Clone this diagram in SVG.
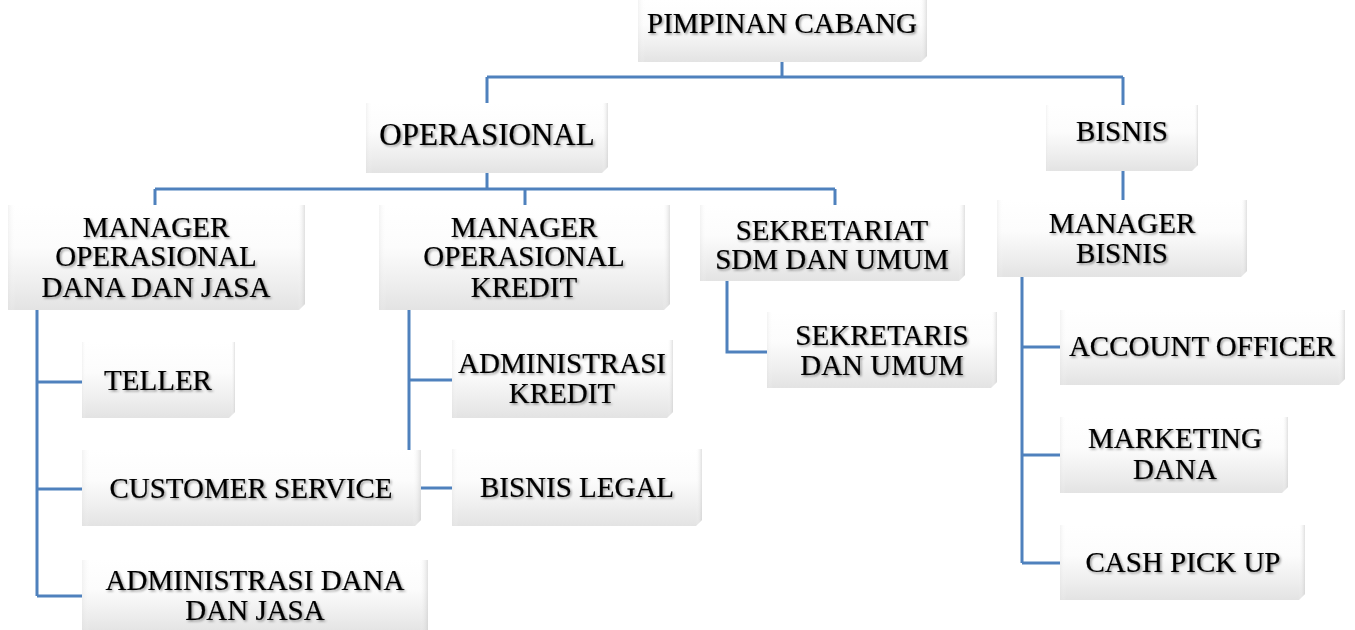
<svg xmlns="http://www.w3.org/2000/svg" width="1355" height="630" viewBox="0 0 1355 630">
<defs>
<linearGradient id="gv" x1="0" y1="0" x2="0" y2="1">
<stop offset="0" stop-color="#ffffff"/>
<stop offset="0.4" stop-color="#fcfcfc"/>
<stop offset="0.75" stop-color="#eeeeee"/>
<stop offset="1" stop-color="#e3e3e3"/>
</linearGradient>
<linearGradient id="gh" x1="0" y1="0" x2="1" y2="0">
<stop offset="0" stop-color="#e0e0e0" stop-opacity="0.4"/>
<stop offset="0.025" stop-color="#ffffff" stop-opacity="0"/>
<stop offset="0.975" stop-color="#ffffff" stop-opacity="0"/>
<stop offset="1" stop-color="#cccccc" stop-opacity="0.6"/>
</linearGradient>
<filter id="ts" x="-5%" y="-20%" width="110%" height="150%">
<feDropShadow dx="1.5" dy="1.5" stdDeviation="1.2" flood-color="#000" flood-opacity="0.4"/>
</filter>
</defs>
<style>
.c{stroke:#4f81bd;stroke-width:3;fill:none}
.b{fill:url(#gv)}
.e{fill:url(#gh)}
.t{font-family:"Liberation Serif","Times New Roman",serif;font-size:29px;fill:#000;stroke:#000;stroke-width:0.2;text-anchor:middle;filter:url(#ts)}
.big{font-size:31px}
</style>
<rect width="1355" height="630" fill="#ffffff"/>
<g id="connectors">
<path class="c" d="M782 62V77M487 77H1123M487 77V103M1123 77V105"/>
<path class="c" d="M487 173V189M155 189H835M155 189V205M525 189V205M835 189V205"/>
<path class="c" d="M1123 171V200"/>
<path class="c" d="M37 310V596M37 382H82M37 489H82M37 596H82"/>
<path class="c" d="M409 310V488H452M409 380H452"/>
<path class="c" d="M727 281V352H767"/>
<path class="c" d="M1022 277V563M1022 347H1060M1022 455H1060M1022 563H1060"/>
</g>
<g id="pimpinan">
<path class="b" d="M638 0H927V56L921 62H638Z"/><path class="e" d="M638 0H927V56L921 62H638Z"/>
<text class="t" x="782" y="33">PIMPINAN CABANG</text>
</g>
<g id="operasional">
<path class="b" d="M366 103H608V167L602 173H366Z"/><path class="e" d="M366 103H608V167L602 173H366Z"/>
<text class="t big" x="487" y="145">OPERASIONAL</text>
</g>
<g id="bisnis">
<path class="b" d="M1046 105H1198V165L1192 171H1046Z"/><path class="e" d="M1046 105H1198V165L1192 171H1046Z"/>
<text class="t" x="1122" y="141">BISNIS</text>
</g>
<g id="manager-dana-jasa">
<path class="b" d="M8 205H305V304L299 310H8Z"/><path class="e" d="M8 205H305V304L299 310H8Z"/>
<text class="t" x="156" y="237">MANAGER</text>
<text class="t" x="156" y="266">OPERASIONAL</text>
<text class="t" x="156" y="297">DANA DAN JASA</text>
</g>
<g id="manager-kredit">
<path class="b" d="M379 205H670V304L664 310H379Z"/><path class="e" d="M379 205H670V304L664 310H379Z"/>
<text class="t" x="524" y="237">MANAGER</text>
<text class="t" x="524" y="266">OPERASIONAL</text>
<text class="t" x="524" y="297">KREDIT</text>
</g>
<g id="sekretariat">
<path class="b" d="M700 205H965V275L959 281H700Z"/><path class="e" d="M700 205H965V275L959 281H700Z"/>
<text class="t" x="832" y="240">SEKRETARIAT</text>
<text class="t" x="832" y="269">SDM DAN UMUM</text>
</g>
<g id="manager-bisnis">
<path class="b" d="M997 200H1247V271L1241 277H997Z"/><path class="e" d="M997 200H1247V271L1241 277H997Z"/>
<text class="t" x="1122" y="233">MANAGER</text>
<text class="t" x="1122" y="263">BISNIS</text>
</g>
<g id="teller">
<path class="b" d="M82 342H235V412L229 418H82Z"/><path class="e" d="M82 342H235V412L229 418H82Z"/>
<text class="t" x="158" y="390">TELLER</text>
</g>
<g id="customer-service">
<path class="b" d="M82 450H421V520L415 526H82Z"/><path class="e" d="M82 450H421V520L415 526H82Z"/>
<text class="t" x="251" y="498">CUSTOMER SERVICE</text>
</g>
<g id="administrasi-dana">
<path class="b" d="M82 560H428V632H82Z"/><path class="e" d="M82 560H428V632H82Z"/>
<text class="t" x="255" y="590">ADMINISTRASI DANA</text>
<text class="t" x="255" y="620">DAN JASA</text>
</g>
<g id="administrasi-kredit">
<path class="b" d="M452 340H673V412L667 418H452Z"/><path class="e" d="M452 340H673V412L667 418H452Z"/>
<text class="t" x="562" y="373">ADMINISTRASI</text>
<text class="t" x="562" y="403">KREDIT</text>
</g>
<g id="bisnis-legal">
<path class="b" d="M452 449H702V520L696 526H452Z"/><path class="e" d="M452 449H702V520L696 526H452Z"/>
<text class="t" x="577" y="497">BISNIS LEGAL</text>
</g>
<g id="sekretaris">
<path class="b" d="M767 312H997V382L991 388H767Z"/><path class="e" d="M767 312H997V382L991 388H767Z"/>
<text class="t" x="882" y="345">SEKRETARIS</text>
<text class="t" x="882" y="375">DAN UMUM</text>
</g>
<g id="account-officer">
<path class="b" d="M1060 310H1345V379L1339 385H1060Z"/><path class="e" d="M1060 310H1345V379L1339 385H1060Z"/>
<text class="t" x="1202" y="356">ACCOUNT OFFICER</text>
</g>
<g id="marketing-dana">
<path class="b" d="M1060 417H1288V487L1282 493H1060Z"/><path class="e" d="M1060 417H1288V487L1282 493H1060Z"/>
<text class="t" x="1175" y="448">MARKETING</text>
<text class="t" x="1175" y="479">DANA</text>
</g>
<g id="cash-pick-up">
<path class="b" d="M1060 525H1305V594L1299 600H1060Z"/><path class="e" d="M1060 525H1305V594L1299 600H1060Z"/>
<text class="t" x="1183" y="572">CASH PICK UP</text>
</g>
</svg>
